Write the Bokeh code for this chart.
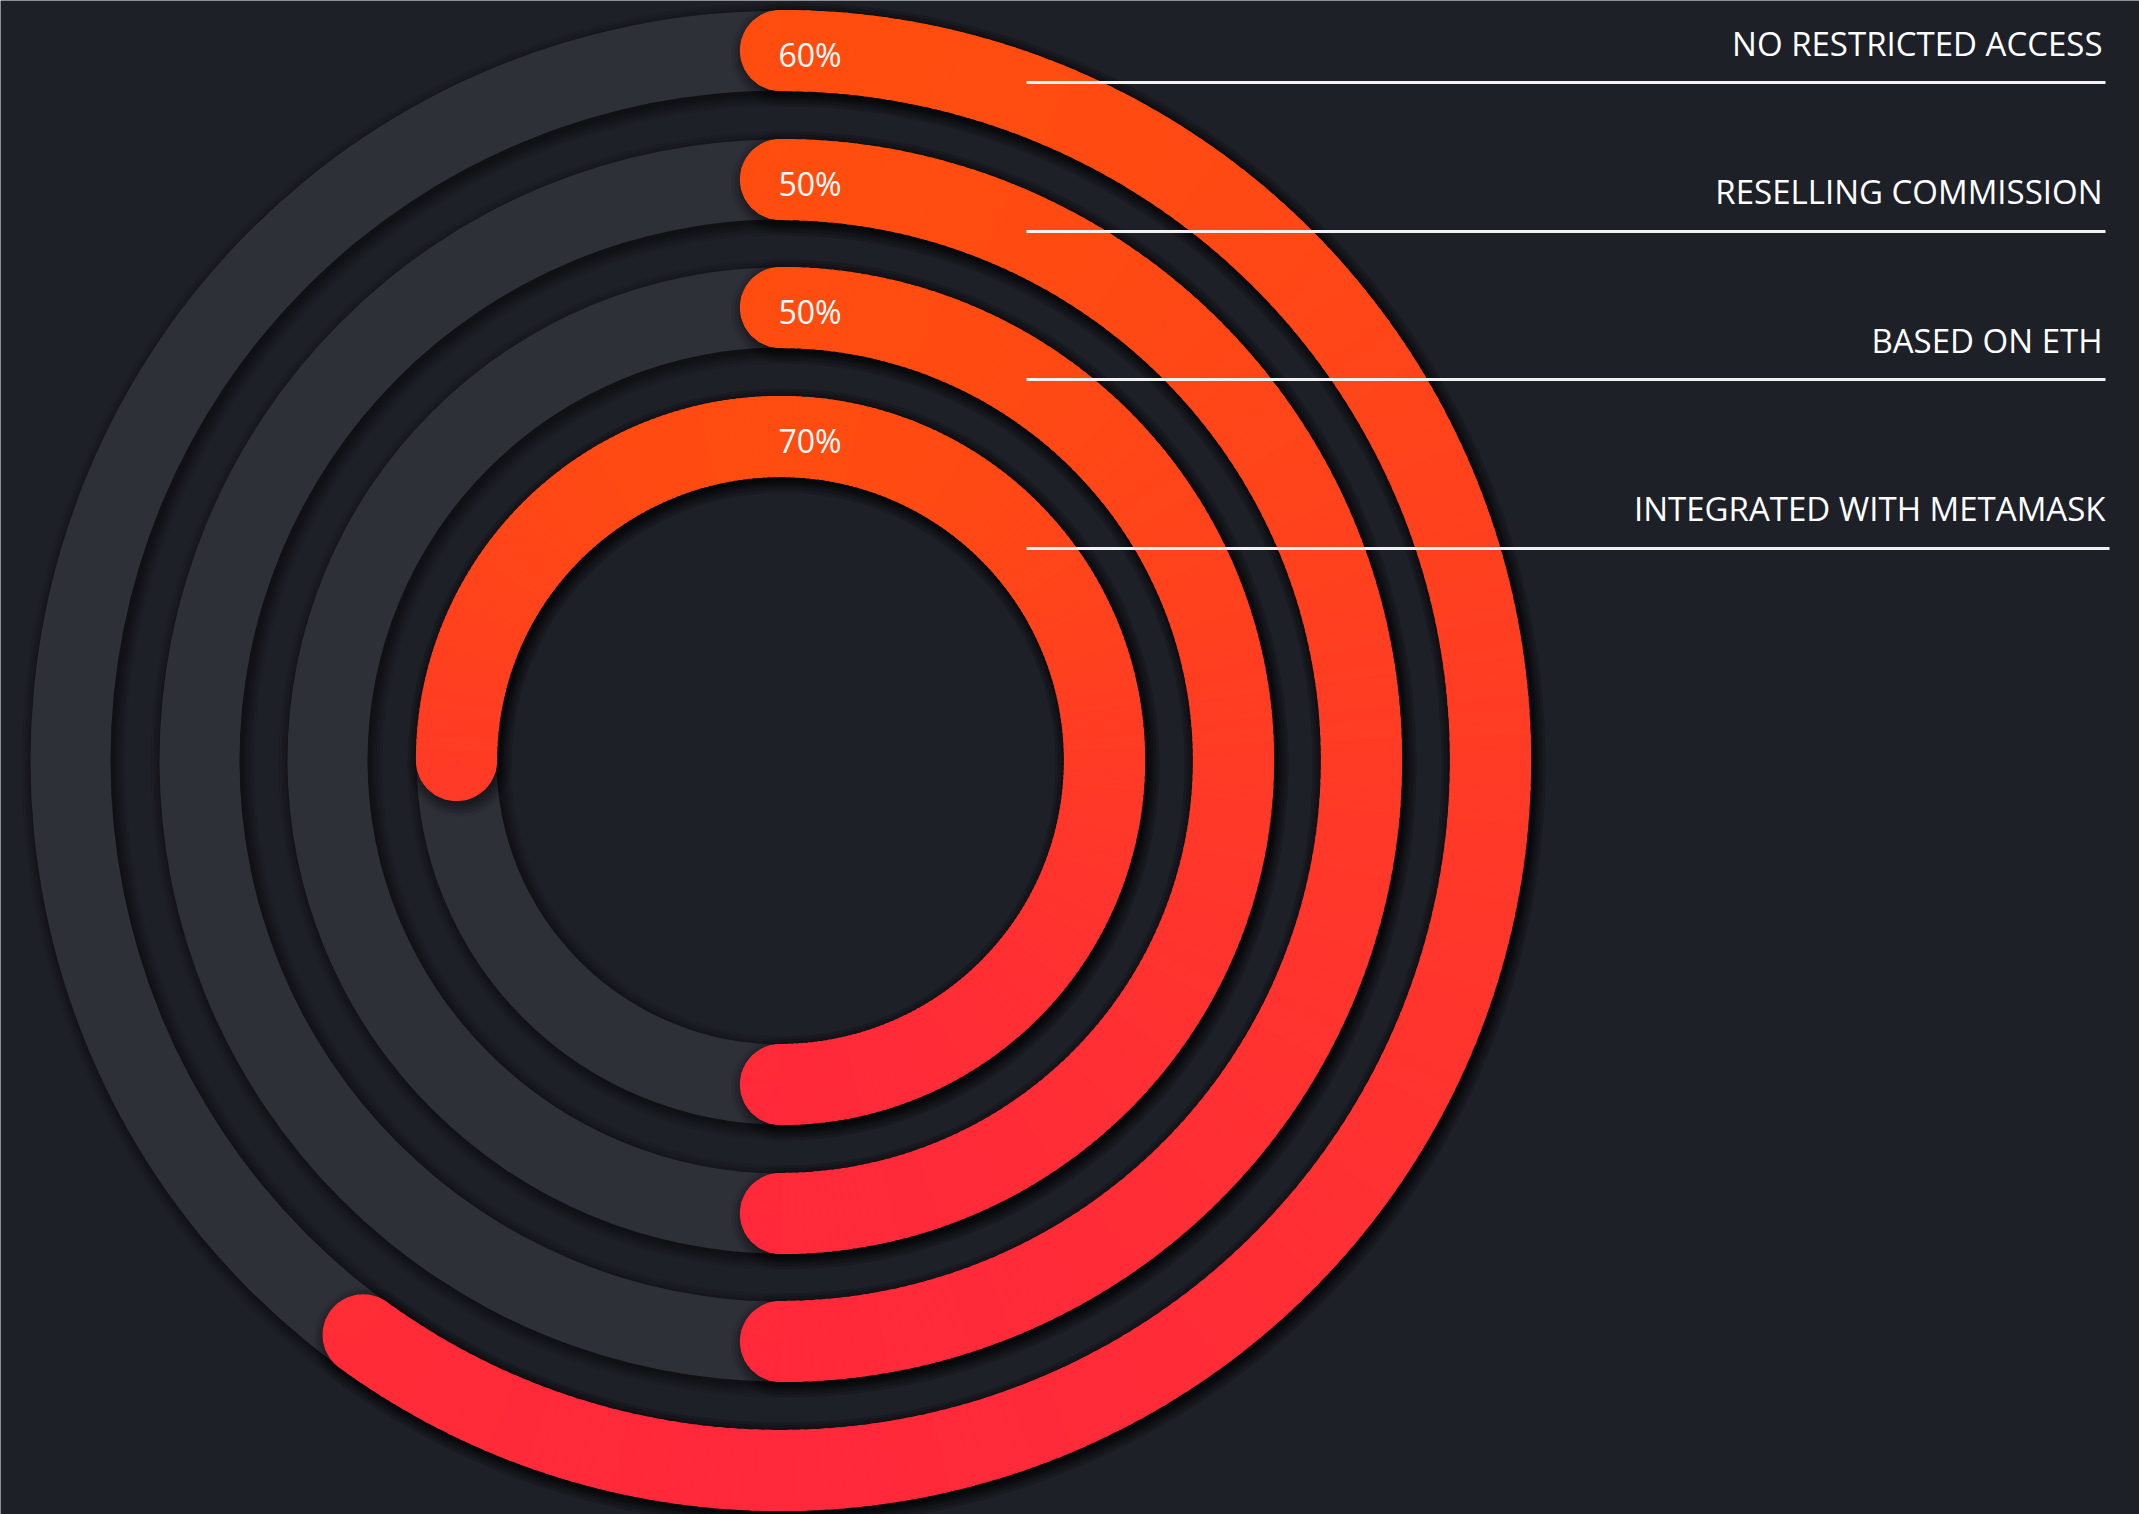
import numpy as np
from bokeh.plotting import figure
from bokeh.models import ColumnDataSource
from bokeh.core.properties import value
from bokeh.embed import file_html
from bokeh.resources import INLINE

# ---------------- data ----------------
categories = ["NO RESTRICTED ACCESS", "RESELLING COMMISSION", "BASED ON ETH", "INTEGRATED WITH METAMASK"]
percent = [60, 50, 50, 70]
# arc extent as it is drawn in the picture (degrees, clockwise from 12 o'clock)
arc_start_deg = [0, 0, 0, -90]
arc_sweep_deg = [216, 180, 180, 270]

# ---------------- layout / style ----------------
W, H = 2139, 1514
CX, CY_PIX = 780, 760
CYD = H - CY_PIX
RADII = [710, 581, 453, 324]
HALF = 40
BG = "#1e2028"
TRACK = "#2e3038"
C_TOP = np.array([255, 78, 14])
C_BOT = np.array([255, 40, 60])
SH_DX, SH_DY = 3, -4
SH_EXP = [0, 2, 4, 6, 9, 12]
SH_ALPHA = 0.085


def hexcol(c):
    c = np.clip(np.round(c), 0, 255).astype(int)
    return "#%02x%02x%02x" % tuple(c)


def grad(y_pix, r):
    top = CY_PIX - r - HALF
    t = (y_pix - top) / (2 * (r + HALF))
    t = min(max(t, 0.0), 1.0)
    return hexcol(C_TOP + (C_BOT - C_TOP) * t)


def pt(r, th):
    t = np.radians(th)
    return CX + r * np.sin(t), CYD + r * np.cos(t)


def cap_dirs(th):
    t = np.radians(th)
    u = np.array([np.sin(t), np.cos(t)])
    tg = np.array([np.cos(t), -np.sin(t)])
    return u, tg


def outline(r, w, th0, th1, dx=0.0, dy=0.0):
    xs, ys = [], []
    n = max(int(abs(th1 - th0)), 2) * 2
    th = np.linspace(th0, th1, n)
    x, y = pt(r + w, th)
    xs += list(x); ys += list(y)
    c1 = np.array(pt(r, th1)); u, tg = cap_dirs(th1)
    for a in np.linspace(0, np.pi, 40):
        p = c1 + w * (u * np.cos(a) + tg * np.sin(a))
        xs.append(p[0]); ys.append(p[1])
    x, y = pt(r - w, th[::-1])
    xs += list(x); ys += list(y)
    c0 = np.array(pt(r, th0)); u, tg = cap_dirs(th0)
    for a in np.linspace(0, np.pi, 40):
        p = c0 + w * (-u * np.cos(a) - tg * np.sin(a))
        xs.append(p[0]); ys.append(p[1])
    return [v + dx for v in xs], [v + dy for v in ys]


p = figure(width=W, height=H, x_range=(0, W), y_range=(0, H),
           x_axis_location=None, y_axis_location=None, min_border=0,
           toolbar_location=None, output_backend="svg",
           background_fill_color=BG, border_fill_color=BG, outline_line_color=None)
p.xgrid.visible = False
p.ygrid.visible = False

# track shadows
for e in SH_EXP:
    p.annulus(x=[CX + SH_DX] * 4, y=[CYD + SH_DY] * 4,
              inner_radius=[r - HALF - e for r in RADII],
              outer_radius=[r + HALF + e for r in RADII],
              fill_color="black", fill_alpha=SH_ALPHA, line_color=None)
# tracks
p.annulus(x=[CX] * 4, y=[CYD] * 4, inner_radius=[r - HALF for r in RADII],
          outer_radius=[r + HALF for r in RADII], fill_color=TRACK, line_color=None)

# arc shadows
sx, sy = [], []
for r, s0, sw in zip(RADII, arc_start_deg, arc_sweep_deg):
    for e in SH_EXP:
        xs, ys = outline(r, HALF + e, s0, s0 + sw, SH_DX, SH_DY)
        sx.append(xs); sy.append(ys)
p.patches(xs=sx, ys=sy, fill_color="black", fill_alpha=SH_ALPHA, line_color=None)

# gradient arcs (sliced)
gx, gy, gc = [], [], []
step = 1.0
for r, s0, sw in zip(RADII, arc_start_deg, arc_sweep_deg):
    s1 = s0 + sw
    a = s0
    while a < s1 - 1e-9:
        b = min(a + step, s1)
        bb = min(b + 0.3, s1)
        th = np.linspace(a, bb, 3)
        xo, yo = pt(r + HALF, th)
        xi, yi = pt(r - HALF, th[::-1])
        gx.append(list(xo) + list(xi)); gy.append(list(yo) + list(yi))
        mid = np.radians((a + b) / 2)
        gc.append(grad(CY_PIX - r * np.cos(mid), r))
        a = b
    # caps as fans
    for th_end, sign in ((s1, 1), (s0, -1)):
        c = np.array(pt(r, th_end)); u, tg = cap_dirs(th_end)
        al = np.linspace(0, np.pi, 13)
        for i in range(12):
            seg = np.linspace(al[i], min(al[i + 1] + 0.05, np.pi), 5)
            xs = [c[0]]; ys = [c[1]]
            for q in seg:
                v = c + sign * HALF * (u * np.cos(q) + tg * np.sin(q))
                xs.append(v[0]); ys.append(v[1])
            gx.append(xs); gy.append(ys)
            qm = (al[i] + al[i + 1]) / 2
            cy_d = c[1] + sign * HALF * 0.6 * (u[1] * np.cos(qm) + tg[1] * np.sin(qm))
            gc.append(grad(H - cy_d, r))
src = ColumnDataSource(dict(xs=gx, ys=gy, c=gc))
p.patches(xs="xs", ys="ys", fill_color="c", line_color="c", line_width=1.2, source=src)

# percentage labels
p.text(x=[CX - 2] * 4, y=[H - (CY_PIX - r) - 4 for r in RADII],
       text=["%d%%" % v for v in percent], text_font=value("Open Sans"),
       text_font_size="32px", text_color="white", text_align="left",
       text_baseline="alphabetic")

# category labels and rules
label_base_pix = [43, 191, 340, 508]
rule_pix = [82, 231, 379, 548]
rule_x1 = [2105, 2105, 2105, 2109]
label_x = [2102, 2102, 2102, 2105]
p.text(x=label_x, y=[H - b for b in label_base_pix], text=categories,
       text_font=value("Open Sans"), text_font_size="33px", text_color="white",
       text_align="right", text_baseline="alphabetic")
p.segment(x0=[1026] * 4, y0=[H - y for y in rule_pix], x1=rule_x1,
          y1=[H - y for y in rule_pix], line_color="#f2f2f2", line_width=3)

open("out.html", "w").write(file_html(p, INLINE))
